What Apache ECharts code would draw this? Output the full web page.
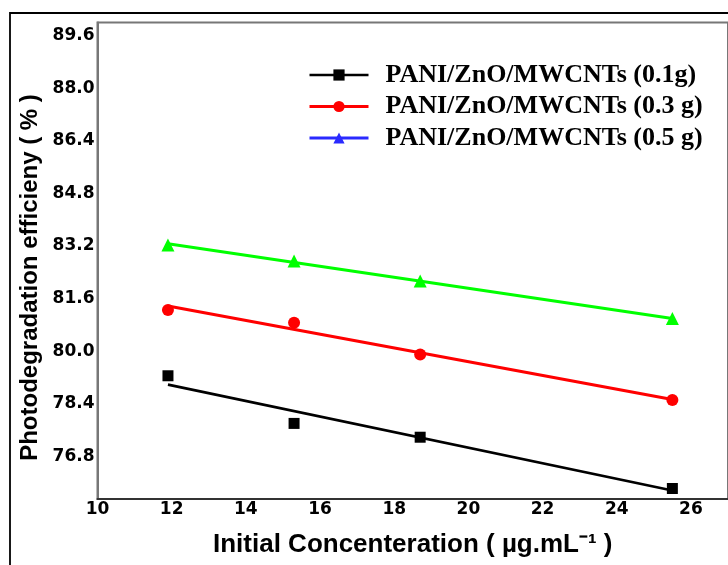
<!DOCTYPE html>
<html>
<head>
<meta charset="utf-8">
<script src="https://cdn.jsdelivr.net/npm/echarts@6/dist/echarts.min.js"></script>
<style>
html,body{margin:0;padding:0;background:#fff;}
#chart{width:728px;height:565px;}
</style>
</head>
<body>
<div id="chart"></div>
<script>
// Data
const concentrations = [11.9, 15.3, 18.7, 25.5];
const eff01 = [79.25, 77.80, 77.38, 75.82];
const eff03 = [81.25, 80.86, 79.90, 78.51];
const eff05 = [83.23, 82.74, 82.13, 80.99];
// Fitted straight lines, end points
const fitX = [11.9, 25.5];
const fit01 = [78.98, 75.76];
const fit03 = [81.37, 78.53];
const fit05 = [83.27, 80.99];
const seriesNames = ['PANI/ZnO/MWCNTs (0.1g)', 'PANI/ZnO/MWCNTs (0.3 g)', 'PANI/ZnO/MWCNTs (0.5 g)'];
const yTickLabels = [76.8, 78.4, 80.0, 81.6, 83.2, 84.8, 86.4, 88.0, 89.6];
const xTickLabels = [10, 12, 14, 16, 18, 20, 22, 24, 26];

const pairs = (xs, ys) => xs.map((x, i) => [x, ys[i]]);

const chart = echarts.init(document.getElementById('chart'));

const groups = [
  {name: seriesNames[0], pts: eff01, fit: fit01, color: '#000000', legendColor: '#000000', symbol: 'rect', size: 11, lw: 2.6},
  {name: seriesNames[1], pts: eff03, fit: fit03, color: '#ff0000', legendColor: '#ff0000', symbol: 'circle', size: 12, lw: 3},
  {name: seriesNames[2], pts: eff05, fit: fit05, color: '#00ff00', legendColor: '#2a2aff', symbol: 'triangle', size: 13, lw: 3}
];

const series = [];
groups.forEach((g, i) => {
  series.push({
    name: 'fit' + i,
    type: 'line',
    data: pairs(fitX, g.fit),
    symbol: 'none',
    lineStyle: {color: g.color, width: g.lw},
    itemStyle: {color: g.color},
    silent: true,
    z: 2
  });
  series.push({
    name: g.name,
    type: 'line',
    data: pairs(concentrations, g.pts),
    symbol: g.symbol,
    symbolSize: g.size,
    showAllSymbol: true,
    lineStyle: {width: 0, color: g.color},
    itemStyle: {color: g.color},
    z: 3
  });
});

chart.setOption({
  animation: false,
  backgroundColor: '#ffffff',
  grid: {
    left: 97.5, top: 22.5, right: -2, bottom: 66,
    show: true, borderColor: '#777777', borderWidth: 2, backgroundColor: 'transparent'
  },
  legend: {
    orient: 'vertical',
    left: 308,
    top: 62,
    padding: 0,
    itemWidth: 59,
    itemHeight: 14,
    itemGap: 5.5,
    selectedMode: false,
    textStyle: {
      fontFamily: 'Liberation Serif',
      fontWeight: 'bold',
      fontSize: 26,
      color: '#000',
      lineHeight: 26,
      padding: [0, 0, 0, 12]
    },
    data: groups.map(g => ({
      name: g.name,
      itemStyle: {color: g.legendColor},
      lineStyle: {color: g.legendColor, width: g.lw, opacity: 1}
    }))
  },
  xAxis: {
    type: 'value',
    min: 10,
    max: 27,
    interval: 2,
    name: 'Initial Concenteration ( µg.mL⁻¹ )',
    nameLocation: 'middle',
    nameGap: 33,
    nameTextStyle: {fontFamily: 'Liberation Sans', fontWeight: 'bold', fontSize: 26, color: '#000'},
    axisLine: {show: true, lineStyle: {color: '#333333', width: 2}},
    axisTick: {show: false},
    splitLine: {show: false},
    axisLabel: {
      margin: 2,
      showMaxLabel: false,
      fontFamily: 'DejaVu Sans', fontWeight: 'bold', fontSize: 17, color: '#000',
      formatter: v => (xTickLabels.indexOf(v) >= 0 ? String(v) : '')
    }
  },
  yAxis: {
    type: 'value',
    min: 75.5,
    max: 90,
    axisLine: {show: true, lineStyle: {color: '#777777', width: 2}},
    axisTick: {show: false},
    splitLine: {show: false},
    axisLabel: {
      customValues: yTickLabels,
      margin: 3,
      fontFamily: 'DejaVu Sans', fontWeight: 'bold', fontSize: 17, color: '#000',
      formatter: v => Number(v).toFixed(1)
    }
  },
  graphic: [
    {
      type: 'rect',
      shape: {x: 10, y: 13, width: 760, height: 620},
      style: {fill: 'none', stroke: '#000', lineWidth: 1.8},
      silent: true,
      z: 100
    },
    {
      type: 'text',
      x: 30,
      y: 277.5,
      rotation: Math.PI / 2,
      style: {
        text: 'Photodegradation efficieny ( % )',
        font: 'bold 24px "Liberation Sans"',
        fill: '#000',
        textAlign: 'center',
        textVerticalAlign: 'middle'
      },
      silent: true
    }
  ],
  series: series
});
</script>
</body>
</html>
